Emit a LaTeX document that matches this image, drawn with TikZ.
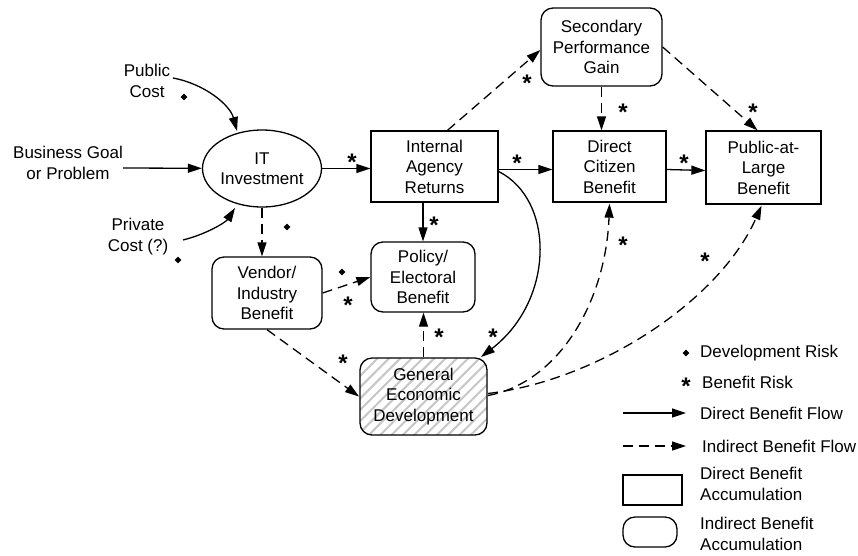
\documentclass[tikz,border=0pt]{standalone}
\usepackage{fontspec}
\setmainfont{Liberation Sans}
\usetikzlibrary{arrows.meta,shapes.geometric,patterns.meta}
\begin{document}
\begin{tikzpicture}[x=1pt,y=-1pt,
  every node/.style={font=\fontsize{17}{20.5}\selectfont, align=center, inner sep=0pt},
  lw/.style={line width=1.3pt},
  dbox/.style={draw, lw, rectangle},
  ibox/.style={draw, lw, rectangle, rounded corners=12pt},
  flow/.style={lw, -{Triangle[length=14pt,width=9pt]}},
  iflow/.style={flow, dash pattern=on 10pt off 6pt},
  risk/.style={font=\fontsize{24}{24}\selectfont\bfseries, yshift=-5.5pt},
  drisk/.style={diamond, fill=black, minimum size=7pt, inner sep=0pt},
  lab/.style={anchor=west, align=left}
]
\useasboundingbox (0,0) rectangle (858,555);

% main nodes
\node[ellipse, draw, lw, minimum width=119pt, minimum height=77pt] (it) at (262,168.5) {IT\\Investment};
\node[dbox, minimum width=127pt, minimum height=71pt] (ia) at (434.5,166.5) {Internal\\Agency\\Returns};
\node[dbox, minimum width=113pt, minimum height=71pt] (dc) at (609.5,166.5) {Direct\\Citizen\\Benefit};
\node[dbox, minimum width=115pt, minimum height=73pt] (pal) at (763.5,167.5) {Public-at-\\Large\\Benefit};
\node[ibox, minimum width=121pt, minimum height=78pt] (sp) at (601.5,47) {Secondary\\Performance\\Gain};
\node[ibox, minimum width=110pt, minimum height=72pt] (vi) at (267,293) {Vendor/\\Industry\\Benefit};
\node[ibox, minimum width=104pt, minimum height=70pt] (pe) at (423,277) {Policy/\\Electoral\\Benefit};
\node[ibox, minimum width=127pt, minimum height=77pt,
      preaction={fill=white},
      pattern={Lines[angle=45,distance=8pt,line width=2pt]}, pattern color=gray!45] (ge) at (423.5,396.5) {General\\Economic\\Development};

% inputs
\node (bg) at (68,163) {Business Goal\\or Problem};
\node (pc) at (147,81) {Public\\Cost};
\node (pv) at (138,236.5) {Private\\Cost (?)};
\coordinate (bgs) at (123,168);
\coordinate (pcs) at (173,78);
\coordinate (pvs) at (183,240);

\draw[flow] (bgs) -- (it);
\draw[flow] (pcs) .. controls (205,84) and (230,105) .. (237,131);
\draw[flow] (pvs) .. controls (207,234) and (226,222) .. (235,208);

% flows
\draw[flow] (it) -- (ia.west |- it.east);
\draw[flow] ([yshift=-3pt]ia.east) -- ([yshift=-3pt]dc.west);
\draw[flow] ([yshift=-3pt]dc.east) -- ([yshift=-3pt]pal.west);
\draw[iflow] ([xshift=13pt]ia.north) -- ([yshift=-3pt]sp.west);
\draw[iflow] (sp.south) -- (sp.south |- dc.north);
\draw[iflow] (sp.east) -- ([xshift=-6pt]pal.north);
\draw[flow] (pe.north |- ia.south) -- (pe.north);
\draw[flow] ([yshift=-5pt]ia.east) .. controls (555,200) and (555,300) .. ([xshift=-7pt]ge.north east);
\draw[iflow] (it.south) -- (it.south |- vi.north);
\draw[iflow] (vi.east) -- (pe.west);
\draw[iflow] (vi.south) -- (ge.west);
\draw[iflow] (ge.north) -- (ge.north |- pe.south);
\draw[iflow] ([yshift=1pt]ge.east) .. controls (560,382) and (606,300) .. ([yshift=-1pt]dc.south);
\draw[iflow] ([yshift=3pt]ge.east) .. controls (600,380) and (720,300) .. ([xshift=-2pt,yshift=-1pt]pal.south);

% benefit risks
\node[risk] (r1) at (352,157) {*};
\node[risk] (r2) at (517,158) {*};
\node[risk] (r3) at (684,158) {*};
\node[risk] (r4) at (527,78) {*};
\node[risk] (r5) at (623,107) {*};
\node[risk] (r6) at (753,107) {*};
\node[risk] (r7) at (434,220) {*};
\node[risk] (r8) at (493,332) {*};
\node[risk] (r9) at (348,300) {*};
\node[risk] (r10) at (343,358) {*};
\node[risk] (r11) at (439,332) {*};
\node[risk] (r12) at (623,240) {*};
\node[risk] (r13) at (705,256) {*};

% development risks
\node[drisk] (d1) at (184,97) {};
\node[drisk] (d2) at (178,260) {};
\node[drisk] (d3) at (287,227) {};
\node[drisk] (d4) at (342,272) {};

% legend
\node[drisk] (ld) at (686,353) {};
\node[lab] (ldt) at (700,353) {Development Risk};
\node[risk] (lr) at (686,381) {*};
\node[lab] (lrt) at (702,382) {Benefit Risk};
\coordinate (l1a) at (623,413);
\coordinate (l1b) at (686,413);
\draw[flow] (l1a) -- (l1b);
\node[lab] (l1t) at (700,413) {Direct Benefit Flow};
\coordinate (l2a) at (623,446);
\coordinate (l2b) at (686,446);
\draw[iflow] (l2a) -- (l2b);
\node[lab] (l2t) at (702,446) {Indirect Benefit Flow};
\node[dbox, minimum width=59pt, minimum height=30pt] (lb1) at (652.5,490) {};
\node[lab] (lb1t) at (700,484) {Direct Benefit\\Accumulation};
\node[ibox, minimum width=54pt, minimum height=30pt] (lb2) at (650,532) {};
\node[lab] (lb2t) at (700,534) {Indirect Benefit\\Accumulation};
\end{tikzpicture}
\end{document}
